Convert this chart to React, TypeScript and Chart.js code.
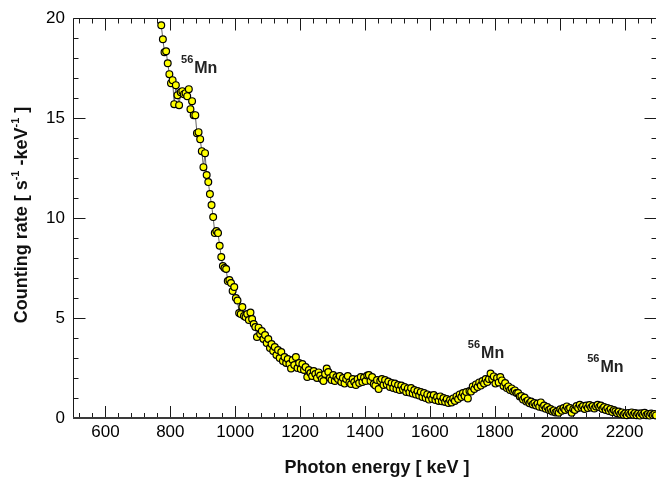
import { useEffect, useRef } from 'react';
import { Chart, registerables } from 'chart.js';

Chart.register(...registerables);

// Gamma spectrum: channel energies (keV) and counting rates (s^-1 keV^-1)
const ENERGY_KEV = [
  772, 777, 782, 787, 792, 797, 802, 807, 812, 817,
  822, 827, 832, 837, 842, 847, 852, 857, 862, 867,
  872, 877, 882, 887, 892, 897, 902, 907, 912, 917,
  922, 927, 932, 937, 942, 947, 952, 957, 962, 967,
  972, 977, 982, 987, 992, 997, 1002, 1007, 1012, 1017,
  1022, 1027, 1032, 1037, 1042, 1047, 1052, 1057, 1062, 1067,
  1072, 1077, 1082, 1087, 1092, 1097, 1102, 1107, 1112, 1117,
  1122, 1127, 1132, 1137, 1142, 1147, 1152, 1157, 1162, 1167,
  1172, 1177, 1182, 1187, 1192, 1197, 1202, 1207, 1212, 1217,
  1222, 1227, 1232, 1237, 1242, 1247, 1252, 1257, 1262, 1267,
  1272, 1277, 1282, 1287, 1292, 1297, 1302, 1307, 1312, 1317,
  1322, 1327, 1332, 1337, 1342, 1347, 1352, 1357, 1362, 1367,
  1372, 1377, 1382, 1387, 1392, 1397, 1402, 1407, 1412, 1417,
  1422, 1427, 1432, 1437, 1442, 1447, 1452, 1457, 1462, 1467,
  1472, 1477, 1482, 1487, 1492, 1497, 1502, 1507, 1512, 1517,
  1522, 1527, 1532, 1537, 1542, 1547, 1552, 1557, 1562, 1567,
  1572, 1577, 1582, 1587, 1592, 1597, 1602, 1607, 1612, 1617,
  1622, 1627, 1632, 1637, 1642, 1647, 1652, 1657, 1662, 1667,
  1672, 1677, 1682, 1687, 1692, 1697, 1702, 1707, 1712, 1717,
  1722, 1727, 1732, 1737, 1742, 1747, 1752, 1757, 1762, 1767,
  1772, 1777, 1782, 1787, 1792, 1797, 1802, 1807, 1812, 1817,
  1822, 1827, 1832, 1837, 1842, 1847, 1852, 1857, 1862, 1867,
  1872, 1877, 1882, 1887, 1892, 1897, 1902, 1907, 1912, 1917,
  1922, 1927, 1932, 1937, 1942, 1947, 1952, 1957, 1962, 1967,
  1972, 1977, 1982, 1987, 1992, 1997, 2002, 2007, 2012, 2017,
  2022, 2027, 2032, 2037, 2042, 2047, 2052, 2057, 2062, 2067,
  2072, 2077, 2082, 2087, 2092, 2097, 2102, 2107, 2112, 2117,
  2122, 2127, 2132, 2137, 2142, 2147, 2152, 2157, 2162, 2167,
  2172, 2177, 2182, 2187, 2192, 2197, 2202, 2207, 2212, 2217,
  2222, 2227, 2232, 2237, 2242, 2247, 2252, 2257, 2262, 2267,
  2272, 2277, 2282, 2287, 2292, 2297,
];

const COUNT_RATE = [
  19.65, 18.95, 18.3, 18.35, 17.75, 17.2, 16.75, 16.9, 15.7, 16.65,
  16.15, 15.65, 16.3, 16.35, 16.2, 16.25, 16.1, 16.45, 15.45, 15.85,
  15.15, 15.15, 14.25, 14.3, 13.95, 13.35, 12.55, 13.25, 12.15, 11.8,
  11.2, 10.65, 10.05, 9.25, 9.35, 9.25, 8.62, 8.05, 7.6, 7.5,
  7.45, 6.85, 6.9, 6.75, 6.35, 6.55, 6.0, 5.88, 5.25, 5.2,
  5.55, 5.1, 5.05, 5.2, 4.9, 5.28, 4.95, 4.7, 4.55, 4.05,
  4.52, 4.2, 4.35, 3.95, 4.15, 3.75, 3.95, 3.5, 3.7, 3.35,
  3.55, 3.15, 3.4, 3.0, 3.3, 2.85, 3.05, 2.75, 2.95, 2.7,
  2.48, 2.9, 2.65, 3.05, 2.5, 2.75, 2.45, 2.7, 2.4, 2.55,
  2.05, 2.4, 2.25, 2.1, 2.35, 2.2, 2.0, 2.28, 2.12, 1.95,
  1.85, 2.2, 2.47, 2.3, 2.0, 1.9, 2.15, 1.85, 2.05, 1.95,
  2.1, 1.8, 2.0, 1.72, 1.95, 2.1, 1.78, 1.7, 1.95, 1.8,
  1.65, 1.95, 1.75, 2.05, 1.8, 2.02, 1.85, 2.12, 2.15, 1.85,
  2.05, 1.7, 1.62, 1.9, 1.45, 1.85, 1.95, 1.65, 1.9, 1.68,
  1.82, 1.55, 1.75, 1.5, 1.72, 1.45, 1.65, 1.4, 1.62, 1.42,
  1.55, 1.3, 1.48, 1.28, 1.5, 1.22, 1.4, 1.18, 1.35, 1.12,
  1.3, 1.05, 1.25, 1.0, 1.18, 0.92, 1.12, 0.95, 1.15, 0.9,
  1.05, 0.85, 1.08, 0.84, 1.0, 0.8, 0.95, 0.75, 0.9, 0.78,
  0.98, 0.85, 1.08, 0.95, 1.18, 1.05, 1.25, 1.1, 1.3, 0.98,
  1.35, 1.32, 1.58, 1.45, 1.68, 1.55, 1.78, 1.62, 1.85, 1.72,
  1.95, 1.8, 1.95, 2.22, 1.95, 2.08, 1.72, 2.0, 1.78, 2.05,
  1.88, 1.6, 1.75, 1.5, 1.58, 1.4, 1.48, 1.32, 1.38, 1.25,
  1.25, 1.08, 1.1, 0.92, 1.02, 0.82, 0.88, 0.74, 0.82, 0.68,
  0.75, 0.62, 0.72, 0.56, 0.78, 0.52, 0.62, 0.46, 0.55, 0.4,
  0.45, 0.33, 0.38, 0.28, 0.32, 0.26, 0.44, 0.36, 0.5, 0.4,
  0.58, 0.45, 0.5, 0.26, 0.45, 0.4, 0.6, 0.5, 0.66, 0.52,
  0.6, 0.45, 0.62, 0.5, 0.65, 0.52, 0.6, 0.48, 0.58, 0.66,
  0.55, 0.62, 0.45, 0.55, 0.4, 0.5, 0.35, 0.45, 0.3, 0.4,
  0.34, 0.24, 0.32, 0.2, 0.28, 0.16, 0.24, 0.14, 0.25, 0.18,
  0.28, 0.16, 0.25, 0.14, 0.22, 0.12, 0.24, 0.16, 0.26, 0.14,
  0.2, 0.12, 0.22, 0.15, 0.2, 0.13,
];

const X_TICKS = [600, 800, 1000, 1200, 1400, 1600, 1800, 2000, 2200];
const Y_TICKS = [0, 5, 10, 15, 20];
const X_MIN = 500;
const X_MAX = 2300;
const Y_MIN = 0;
const Y_MAX = 20;
const X_MINOR_STEP = 40;
const Y_MINOR_STEP = 1;

// Peak annotations: label anchor energy and rate
const PEAK_ENERGY = [833, 1717, 2085];
const PEAK_LABEL_RATE = [17.27, 2.98, 2.28];
const PEAK_MASS = '56';
const PEAK_ELEMENT = 'Mn';

const X_TITLE = 'Photon energy [ keV ]';
const Y_TITLE_PARTS: [string, boolean][] = [
  ['Counting rate [ s', false],
  ['-1', true],
  [' -keV', false],
  ['-1', true],
  [' ]', false],
];

const FONT = '"Liberation Sans", Arial, Helvetica, sans-serif';

const framePlugin = {
  id: 'frameTicks',
  beforeDatasetsDraw(chart: any) {
    const { ctx, chartArea: a, scales } = chart;
    const xs = scales.x;
    const ys = scales.y;
    const L = Math.round(a.left) + 0.5;
    const R = Math.round(a.right) - 0.5;
    const T = Math.round(a.top) + 0.5;
    const B = Math.round(a.bottom);
    const major = 12;
    const minor = 5;
    ctx.save();
    ctx.strokeStyle = '#1a1a1a';
    ctx.lineWidth = 1;
    const seg = (x1: number, y1: number, x2: number, y2: number) => {
      ctx.beginPath();
      ctx.moveTo(x1, y1);
      ctx.lineTo(x2, y2);
      ctx.stroke();
    };
    // horizontal axis ticks, bottom and top, pointing inward
    for (let v = X_MIN; v <= X_MAX; v += X_MINOR_STEP / 2) {
      const isMajor = X_TICKS.includes(v);
      const isMinor = !isMajor && (v - 520) % X_MINOR_STEP === 0;
      if (!isMajor && !isMinor) continue;
      const px = Math.round(xs.getPixelForValue(v)) + 0.5;
      const len = isMajor ? major : minor;
      seg(px, B, px, B - len);
      seg(px, T, px, T + len);
    }
    // vertical axis ticks, left and right, pointing inward
    for (let v = Y_MIN; v <= Y_MAX; v += Y_MINOR_STEP) {
      const isMajor = Y_TICKS.includes(v);
      const py = Math.round(ys.getPixelForValue(v)) + 0.5;
      const len = isMajor ? major : minor;
      seg(L, py, L + len, py);
      seg(R, py, R - len, py);
    }
    // frame
    seg(L, T, R, T);
    seg(L, T, L, B);
    seg(R, T, R, B);
    ctx.strokeStyle = '#3a3a3a';
    ctx.lineWidth = 2;
    seg(L - 0.5, B, R + 0.5, B);
    ctx.restore();
  },
  afterDraw(chart: any) {
    const { ctx, scales } = chart;
    const xs = scales.x;
    const ys = scales.y;
    ctx.save();
    ctx.fillStyle = '#111';
    // axis titles
    ctx.font = `bold 18px ${FONT}`;
    ctx.textAlign = 'center';
    ctx.textBaseline = 'alphabetic';
    ctx.fillText(X_TITLE, 377, 473);

    const bigFont = `bold 18px ${FONT}`;
    const supFont = `bold 11px ${FONT}`;
    let total = 0;
    for (const [t, sup] of Y_TITLE_PARTS) {
      ctx.font = sup ? supFont : bigFont;
      total += ctx.measureText(t).width;
    }
    ctx.translate(27, 215);
    ctx.rotate(-Math.PI / 2);
    ctx.textAlign = 'left';
    let cx = -total / 2;
    for (const [t, sup] of Y_TITLE_PARTS) {
      ctx.font = sup ? supFont : bigFont;
      ctx.fillText(t, cx, sup ? -8 : 0);
      cx += ctx.measureText(t).width;
    }
    ctx.setTransform(1, 0, 0, 1, 0, 0);

    // peak labels
    ctx.textAlign = 'left';
    PEAK_ENERGY.forEach((e, i) => {
      const px = xs.getPixelForValue(e);
      const py = ys.getPixelForValue(PEAK_LABEL_RATE[i]);
      ctx.font = supFont;
      ctx.fillStyle = '#222';
      ctx.fillText(PEAK_MASS, px, py - 10);
      const w = ctx.measureText(PEAK_MASS).width;
      ctx.font = `bold 16px ${FONT}`;
      ctx.fillText(PEAK_ELEMENT, px + w + 1, py);
    });
    ctx.restore();
  },
};

export default function App() {
  const canvasRef = useRef<HTMLCanvasElement | null>(null);

  useEffect(() => {
    const canvas = canvasRef.current;
    if (!canvas) return;
    const points = ENERGY_KEV.map((e, i) => ({ x: e, y: COUNT_RATE[i] }));
    const chart = new Chart(canvas, {
      type: 'line',
      data: {
        datasets: [
          {
            data: points,
            borderColor: '#3c3c3c',
            borderWidth: 0.8,
            pointRadius: 3.4,
            pointBorderWidth: 1.2,
            pointBackgroundColor: '#ffff00',
            pointBorderColor: '#000000',
            tension: 0,
            fill: false,
            clip: false as any,
          },
        ],
      },
      options: {
        responsive: false,
        animation: false,
        devicePixelRatio: 1,
        events: [],
        layout: { padding: { top: 15, right: 13, left: 0, bottom: 0 } },
        plugins: {
          legend: { display: false },
          tooltip: { enabled: false },
          title: { display: false },
        },
        scales: {
          x: {
            type: 'linear',
            position: 'bottom',
            min: X_MIN,
            max: X_MAX,
            grid: { display: false, drawTicks: false },
            border: { display: false },
            ticks: {
              color: '#000',
              font: { family: FONT, size: 17 },
              padding: 4,
              maxRotation: 0,
              minRotation: 0,
              autoSkip: false,
              callback: (v: any) => String(v),
            },
            afterBuildTicks: (s: any) => {
              s.ticks = X_TICKS.map((v) => ({ value: v }));
            },
            afterFit: (s: any) => {
              s.height = 63;
            },
          },
          y: {
            type: 'linear',
            position: 'left',
            min: Y_MIN,
            max: Y_MAX,
            grid: { display: false, drawTicks: false },
            border: { display: false },
            ticks: {
              color: '#000',
              font: { family: FONT, size: 17 },
              padding: 8,
              autoSkip: false,
              callback: (v: any) => String(v),
            },
            afterBuildTicks: (s: any) => {
              s.ticks = Y_TICKS.map((v) => ({ value: v }));
            },
            afterFit: (s: any) => {
              s.width = 73;
            },
          },
        },
      },
      plugins: [framePlugin],
    });
    return () => chart.destroy();
  }, []);

  return (
    <div
      style={{
        position: 'fixed',
        left: 0,
        top: 0,
        width: 656,
        height: 481,
        overflow: 'hidden',
        background: '#fff',
      }}
    >
      <canvas ref={canvasRef} width={670} height={481} style={{ display: 'block' }} />
    </div>
  );
}
